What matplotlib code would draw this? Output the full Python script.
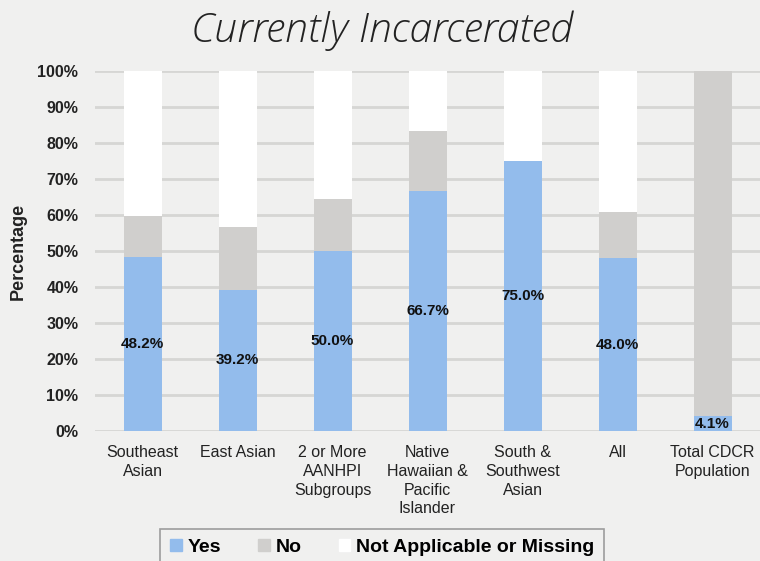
import matplotlib.pyplot as plt
from matplotlib.patches import Patch

categories = ['Southeast\nAsian', 'East Asian', '2 or More\nAANHPI\nSubgroups',
              'Native\nHawaiian &\nPacific\nIslander', 'South &\nSouthwest\nAsian',
              'All', 'Total CDCR\nPopulation']
yes = [48.2, 39.2, 50.0, 66.7, 75.0, 48.0, 4.1]
no = [11.6, 17.5, 14.4, 16.6, 0.0, 12.9, 95.9]
missing = [100 - y - n for y, n in zip(yes, no)]

bg = '#f0f0ef'
blue = '#93bcec'
grey = '#d0cfcd'
white = '#ffffff'
sans = ['Liberation Sans', 'DejaVu Sans']

fig = plt.figure(figsize=(7.6, 5.61), dpi=100, facecolor=bg)
ax = fig.add_axes([95 / 760, 130 / 561, 665 / 760, 360 / 561], facecolor=bg)

x = list(range(len(categories)))
w = 0.4
ax.bar(x, yes, w, color=blue, zorder=2)
ax.bar(x, no, w, bottom=yes, color=grey, zorder=2)
ax.bar(x, missing, w, bottom=[a + b for a, b in zip(yes, no)], color=white, zorder=2)

for i, v in enumerate(yes):
    ax.text(i, v / 2, f'{v:.1f}%', ha='center', va='center', fontsize=11,
            fontweight='bold', family=sans, color='#111111', zorder=3)

ax.set_xlim(-0.5, 6.5)
ax.set_ylim(0, 100)
ax.set_yticks(range(0, 101, 10))
ax.set_yticklabels([f'{t}%' for t in range(0, 101, 10)], family=sans,
                   fontweight='bold', fontsize=11.5, color='#222222')
ax.set_xticks(x)
ax.set_xticklabels(categories, family=sans, fontsize=11.5, color='#222222',
                   va='top', linespacing=1.32)
ax.tick_params(length=0)
ax.tick_params(axis='y', pad=12)
ax.tick_params(axis='x', pad=10)
ax.grid(axis='y', color='#d6d6d4', linewidth=2, zorder=1)
for s in ax.spines.values():
    s.set_visible(False)
ax.set_ylabel('Percentage', family=sans, fontweight='bold', fontsize=13,
              color='#222222', labelpad=8)

fig.text(0.503, 0.945, 'Currently Incarcerated', ha='center', va='center',
         fontsize=29.5, style='italic', family=['Open Sans', 'DejaVu Sans'],
         fontweight='light', color='#222222')

handles = [Patch(color=blue), Patch(color=grey), Patch(color=white)]
leg = fig.legend(handles, ['Yes', 'No', 'Not Applicable or Missing'],
                 loc='lower center', bbox_to_anchor=(0.503, -0.025), ncol=3,
                 frameon=True, fancybox=False, handlelength=0.6, handleheight=0.6,
                 handletextpad=0.3, columnspacing=1.9, borderpad=0.5,
                 prop={'family': sans, 'size': 14, 'weight': 'bold'})
leg.get_frame().set_edgecolor('#888888')
leg.get_frame().set_facecolor(bg)
leg.get_frame().set_linewidth(1.2)

fig.savefig('out.png', dpi=100, facecolor=bg)
